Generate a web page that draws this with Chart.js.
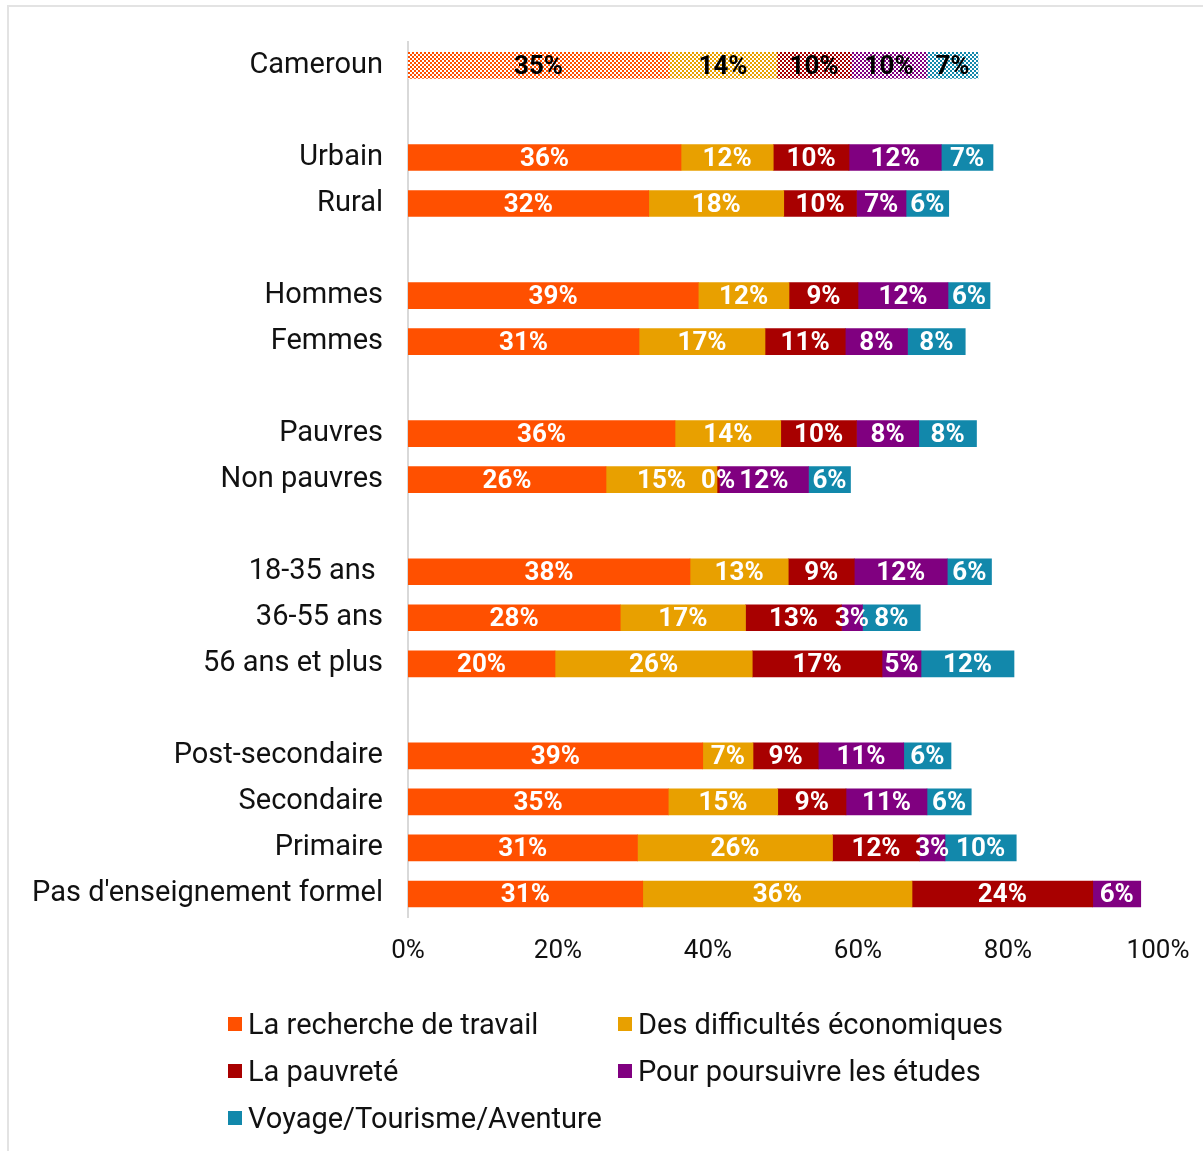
<!DOCTYPE html>
<html>
<head>
<meta charset="utf-8">
<script src="https://cdn.jsdelivr.net/npm/chart.js@4/dist/chart.umd.min.js"></script>
<style>
  html, body { margin:0; padding:0; background:#fff; }
  #wrap { position:relative; width:1203px; height:1151px; overflow:hidden; }
  #frame { position:absolute; left:7px; top:5px; width:1250px; height:1200px; border:2px solid #e3e3e3; box-sizing:border-box; }
  canvas { position:absolute; left:0; top:0; }
  .leg { position:absolute; font-family: Roboto, sans-serif; font-size:29px; color:#111; line-height:1; white-space:nowrap; }
  .leg span.sw { display:inline-block; width:14px; height:14px; margin-right:6px; vertical-align:middle; position:relative; top:-2px; }
</style>
</head>
<body>
<div id="wrap">
  <div id="frame"></div>
  <canvas id="c" width="1203" height="1151"></canvas>
  <div id="legend"></div>
</div>
<script>
const categories = ["Cameroun", "", "Urbain", "Rural", "", "Hommes", "Femmes", "", "Pauvres", "Non pauvres", "", "18-35 ans ", "36-55 ans", "56 ans et plus", "", "Post-secondaire", "Secondaire", "Primaire", "Pas d'enseignement formel"];
const seriesNames = ["La recherche de travail", "Des difficultés économiques", "La pauvreté", "Pour poursuivre les études", "Voyage/Tourisme/Aventure"];
const seriesColors = ["#FF5000", "#E8A000", "#A80000", "#800080", "#1288AB"];
const rechercheTravail = [34.8, null, 36.4, 32.1, null, 38.7, 30.8, null, 35.6, 26.4, null, 37.6, 28.3, 19.6, null, 39.3, 34.7, 30.6, 31.3];
const difficultesEco   = [14.4, null, 12.3, 18.0, null, 12.1, 16.8, null, 14.1, 14.8, null, 13.1, 16.7, 26.3, null, 6.7, 14.6, 26.0, 35.9];
const pauvrete         = [9.9, null, 10.1, 9.7, null, 9.2, 10.7, null, 10.1, 0.3, null, 8.8, 12.8, 17.3, null, 8.7, 9.1, 11.6, 24.1];
const etudes           = [10.1, null, 12.3, 6.6, null, 12.0, 8.3, null, 8.3, 11.9, null, 12.4, 2.8, 5.2, null, 11.4, 10.8, 3.4, 6.4];
const voyage           = [6.8, null, 6.9, 5.7, null, 5.6, 7.7, null, 7.7, 5.6, null, 5.9, 7.7, 12.4, null, 6.3, 5.9, 9.5, null];
const xTicks = [0, 20, 40, 60, 80, 100];
const seriesValues = [rechercheTravail, difficultesEco, pauvrete, etudes, voyage];

function makePattern(color) {
  const p = document.createElement('canvas');
  p.width = 4; p.height = 4;
  const g = p.getContext('2d');
  g.fillStyle = '#ffffff'; g.fillRect(0, 0, 4, 4);
  g.fillStyle = color;
  g.fillRect(0, 0, 2, 2); g.fillRect(2, 2, 2, 2);
  return document.getElementById('c').getContext('2d').createPattern(p, 'repeat');
}

const datasets = seriesNames.map((name, i) => {
  const pat = makePattern(seriesColors[i]);
  return {
    label: name,
    data: seriesValues[i],
    backgroundColor: ctx => ctx.dataIndex === 0 ? pat : seriesColors[i],
    borderWidth: 0,
    barThickness: 26
  };
});

const labelPlugin = {
  id: 'segLabels',
  afterDatasetsDraw(chart) {
    const ctx = chart.ctx;
    ctx.save();
    ctx.font = 'bold 26px Roboto, sans-serif';
    ctx.textAlign = 'center';
    ctx.textBaseline = 'middle';
    chart.data.datasets.forEach((ds, di) => {
      const meta = chart.getDatasetMeta(di);
      meta.data.forEach((el, idx) => {
        const v = ds.data[idx];
        if (v === null || v === undefined) return;
        const cx = (el.x + el.base) / 2;
        ctx.fillStyle = idx === 0 ? '#000000' : '#ffffff';
        ctx.fillText(Math.round(v) + '%', cx, el.y + 2);
      });
    });
    ctx.restore();
  }
};

new Chart(document.getElementById('c'), {
  type: 'bar',
  data: { labels: categories, datasets },
  options: {
    indexAxis: 'y',
    responsive: false,
    animation: false,
    layout: { padding: { left: 8, right: 45, top: 41, bottom: 174 } },
    plugins: { legend: { display: false }, tooltip: { enabled: false } },
    scales: {
      y: {
        stacked: true,
        grid: { display: false, drawTicks: false },
        border: { display: true, color: '#d9d9d9', width: 2 },
        ticks: { color: '#111', font: { family: 'Roboto, sans-serif', size: 29 }, padding: 25, autoSkip: false },
        afterFit(scale) { scale.width = 400; }
      },
      x: {
        stacked: true,
        min: 0, max: 100,
        afterBuildTicks(scale) { scale.ticks = xTicks.map(v => ({ value: v })); },
        grid: { display: false, drawTicks: false },
        border: { display: false },
        ticks: { color: '#111', font: { family: 'Roboto, sans-serif', size: 26 }, padding: 19, callback: v => v + '%', maxRotation: 0 },
        afterFit(scale) { scale.height = 60; scale.paddingLeft = 0; scale.paddingRight = 0; }
      }
    }
  },
  plugins: [labelPlugin]
});

// legend
const legPos = [[228, 1025], [618, 1025], [228, 1072], [618, 1072], [228, 1119]];
const legend = document.getElementById('legend');
seriesNames.forEach((n, i) => {
  const d = document.createElement('div');
  d.className = 'leg';
  d.style.left = legPos[i][0] + 'px';
  d.style.top = (legPos[i][1] - 15) + 'px';
  d.innerHTML = '<span class="sw" style="background:' + seriesColors[i] + '"></span>' + n;
  legend.appendChild(d);
});
</script>
</body>
</html>
